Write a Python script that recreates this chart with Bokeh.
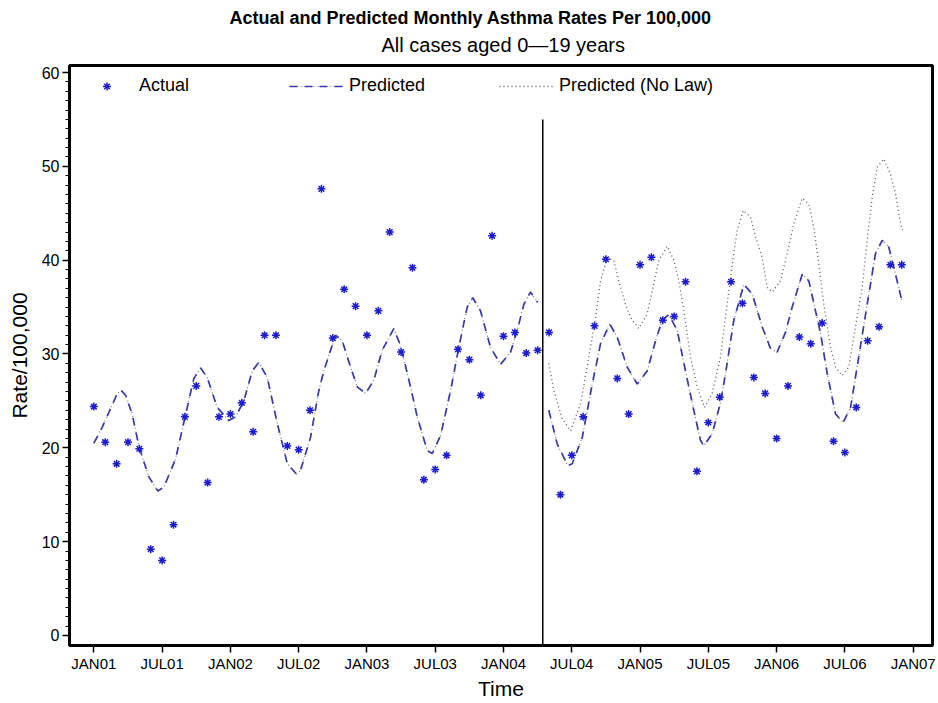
from bokeh.plotting import figure
from bokeh.models import FixedTicker, Legend, LegendItem, Title, Range1d
from bokeh.embed import file_html
from bokeh.resources import INLINE

# ---------------- data ----------------
months = list(range(72))                       # 0 = JAN01 ... 71 = DEC06
tick_months = [0, 6, 12, 18, 24, 30, 36, 42, 48, 54, 60, 66, 72]
tick_labels = ["JAN01", "JUL01", "JAN02", "JUL02", "JAN03", "JUL03", "JAN04",
               "JUL04", "JAN05", "JUL05", "JAN06", "JUL06", "JAN07"]
y_ticks = [0, 10, 20, 30, 40, 50, 60]

actual = [24.4, 20.6, 18.3, 20.6, 19.9, 9.2, 8.0, 11.8, 23.3, 26.6,
          16.3, 23.3, 23.6, 24.8, 21.7, 32.0, 32.0, 20.2, 19.8, 24.0,
          47.6, 31.7, 36.9, 35.1, 32.0, 34.6, 43.0, 30.2, 39.2, 16.6,
          17.7, 19.2, 30.5, 29.4, 25.6, 42.6, 31.9, 32.3, 30.1, 30.4,
          32.3, 15.0, 19.2, 23.3, 33.0, 40.1, 27.4, 23.6, 39.5, 40.3,
          33.6, 34.0, 37.7, 17.5, 22.7, 25.4, 37.7, 35.4, 27.5, 25.8,
          21.0, 26.6, 31.8, 31.1, 33.3, 20.7, 19.5, 24.3, 31.4, 32.9,
          39.5, 39.5]

# predicted curve at the positions (in months) below
pre_t = [0.0, 0.74, 2.06, 2.41, 2.79, 3.37, 3.95, 4.83, 5.62, 6.15,
         7.18, 8.0, 8.79, 9.38, 9.96, 10.84, 11.86, 12.45, 13.18, 13.92,
         14.5, 15.24, 16.12, 17.0, 17.81, 18.16, 19.04, 19.77, 20.21, 21.24,
         21.83, 22.56, 23.15, 23.88, 24.6, 25.34, 26.36, 26.95, 27.83, 28.42,
         29.3, 29.74, 30.47, 31.35, 32.07, 32.81, 33.3, 33.98, 34.86, 35.74,
         36.62, 37.2, 37.79, 38.37, 39.0]
predicted_pre = [20.5, 22.2, 25.8, 26.1, 25.6, 23.6, 20.2, 16.9, 15.4, 15.8,
                 18.8, 23.2, 27.4, 28.5, 27.5, 24.3, 22.9, 23.3, 25.0, 28.2,
                 29.1, 27.5, 22.6, 18.3, 17.2, 17.6, 21.1, 26.1, 28.2, 32.0,
                 31.4, 28.6, 26.5, 25.8, 27.2, 30.4, 32.7, 30.9, 26.5, 23.3,
                 19.7, 19.4, 21.3, 26.1, 30.7, 35.0, 36.0, 34.6, 30.7, 28.9,
                 30.2, 32.5, 35.3, 36.6, 35.5]

post_t = [39.98, 40.72, 41.65, 42.04, 42.92, 43.8, 44.53, 45.34, 45.99, 46.87,
          47.75, 48.63, 49.36, 49.95, 50.53, 51.27, 51.99, 52.72, 53.31, 53.6,
          54.34, 55.07, 55.51, 56.24, 57.12, 57.86, 58.73, 59.46, 60.05, 60.78,
          61.37, 62.25, 62.83, 63.42, 63.86, 64.45, 65.18, 65.85, 66.5, 67.22,
          67.96, 68.69, 69.28, 69.86, 70.45, 71.04]
predicted_post = [24.0, 20.4, 18.1, 18.3, 21.1, 26.8, 31.1, 33.2, 31.8, 28.6,
                  26.8, 28.2, 31.4, 33.6, 34.2, 32.5, 28.2, 24.0, 20.8, 20.2,
                  21.5, 24.8, 27.9, 33.6, 37.4, 36.4, 32.9, 30.6, 30.2, 32.3,
                  35.0, 38.5, 37.8, 34.6, 32.2, 27.9, 23.6, 22.7, 24.3, 29.7,
                  35.3, 40.7, 42.1, 41.4, 38.5, 35.5]

nolaw_t = [39.98, 40.42, 41.16, 41.89, 42.77, 43.5, 44.09, 44.53, 45.12, 45.69,
           46.13, 46.72, 47.16, 47.89, 48.63, 49.21, 49.65, 50.39, 50.97, 51.41,
           51.85, 52.43, 53.02, 53.66, 54.34, 55.07, 56.1, 56.54, 57.07, 57.71,
           58.15, 58.73, 59.17, 59.61, 60.34, 60.93, 61.51, 62.25, 62.83, 63.27,
           63.71, 64.15, 64.74, 65.18, 65.76, 66.34, 66.93, 67.52, 67.96, 68.4,
           68.84, 69.42, 70.0, 70.45, 70.74, 71.04]
predicted_no_law = [29.0, 26.1, 23.1, 21.8, 24.7, 29.7, 33.9, 37.8, 40.2, 40.0,
                    37.8, 35.3, 33.9, 32.7, 34.3, 37.5, 40.0, 41.5, 40.0, 37.8,
                    34.6, 29.7, 26.5, 24.3, 25.8, 29.7, 39.6, 43.2, 45.3, 44.6,
                    42.5, 40.3, 37.1, 36.6, 37.8, 40.7, 43.9, 46.6, 46.0, 43.5,
                    39.6, 35.3, 30.7, 28.6, 27.7, 28.6, 32.9, 37.1, 42.1, 46.7,
                    49.9, 50.8, 49.2, 47.1, 44.9, 43.2]

law_month = 39.45
law_line_top = 55.0

X_MIN, X_MAX = -2.14, 73.7
Y_MIN, Y_MAX = -1.07, 60.75

FONT = "Liberation Sans"
BLUE_MARK = "#1c1cd0"
BLUE_LINE = "#3a3aa8"
GRAY_DOT = "#7a7a7a"

# ---------------- figure ----------------
p = figure(width=938, height=703, output_backend="svg", toolbar_location=None,
           title=None, x_range=Range1d(X_MIN, X_MAX), y_range=Range1d(Y_MIN, Y_MAX),
           min_border_left=69, min_border_right=6, min_border_bottom=58,
           min_border_top=65)
p.background_fill_color = "white"
p.border_fill_color = "white"
p.outline_line_color = "black"
p.outline_line_width = 3
p.xgrid.visible = False
p.ygrid.visible = False

dot_kw = dict(line_color=GRAY_DOT, line_width=1.2, line_dash="1 3")
dash_kw = dict(line_color=BLUE_LINE, line_width=1.7, line_dash="8 7")

# predicted (before and after the law)
r_pre_dot = p.line(pre_t, predicted_pre, **dot_kw)
r_pre_dash = p.line(pre_t, predicted_pre, **dash_kw)
r_nolaw = p.line(nolaw_t, predicted_no_law, line_color="#5a5a5a",
                 line_width=1.3, line_dash="1 3")
p.line(post_t, predicted_post, **dot_kw)
p.line(post_t, predicted_post, **dash_kw)

# law reference line
p.segment(x0=[law_month], y0=[Y_MIN], x1=[law_month], y1=[law_line_top],
          line_color="black", line_width=1.5)

# actual
r_act = p.scatter(months, actual, marker="asterisk", size=8,
                  line_color=BLUE_MARK, line_width=1.5)

legend = Legend(items=[LegendItem(label="Actual", renderers=[r_act]),
                       LegendItem(label="Predicted", renderers=[r_pre_dot, r_pre_dash]),
                       LegendItem(label="Predicted (No Law)", renderers=[r_nolaw])],
                orientation="horizontal", location="top_left",
                glyph_width=55, glyph_height=20, label_standoff=5, spacing=0,
                label_width=150, label_text_font=FONT, label_text_font_size="18px",
                label_text_color="black", border_line_alpha=0,
                background_fill_alpha=0, margin=5, padding=5)
p.add_layout(legend)

# axes
p.xaxis.ticker = FixedTicker(ticks=tick_months)
p.xaxis.major_label_overrides = {m: t for m, t in zip(tick_months, tick_labels)}
p.xaxis.major_tick_out = 7
p.xaxis.major_tick_in = 0
p.xaxis.major_label_standoff = 2
p.xaxis.axis_label = "Time"
p.xaxis.axis_label_standoff = 2

p.yaxis.ticker = FixedTicker(ticks=y_ticks, minor_ticks=list(range(0, 61)))
p.yaxis.major_tick_out = 7
p.yaxis.major_tick_in = 0
p.yaxis.minor_tick_out = 4
p.yaxis.minor_tick_in = 0
p.yaxis.major_label_standoff = 3
p.yaxis.axis_label = "Rate/100,000"
p.yaxis.axis_label_standoff = 8

for ax in (p.xaxis, p.yaxis):
    ax.axis_line_color = "black"
    ax.axis_line_width = 2
    ax.major_tick_line_color = "black"
    ax.major_tick_line_width = 1.5
    ax.major_label_text_font = FONT
    ax.major_label_text_color = "black"
    ax.axis_label_text_font = FONT
    ax.axis_label_text_font_style = "normal"
    ax.axis_label_text_color = "black"
    ax.axis_label_text_font_size = "21px"
p.xaxis.minor_tick_line_color = None
p.yaxis.minor_tick_line_color = "black"
p.xaxis.major_label_text_font_size = "15px"
p.yaxis.major_label_text_font_size = "16px"

# titles
sub = Title(text="All cases aged 0\u201419 years", align="left", offset=312,
            text_font=FONT, text_font_size="20px", text_font_style="normal",
            text_color="black", standoff=9,
            padding=dict(left=0, right=0, top=0, bottom=5))
main = Title(text="Actual and Predicted Monthly Asthma Rates Per 100,000",
             align="left", offset=160, text_font=FONT, text_font_size="18px",
             text_font_style="bold", text_color="black", standoff=0)
p.add_layout(sub, "above")
p.add_layout(main, "above")

open("out.html", "w").write(file_html(p, INLINE))
